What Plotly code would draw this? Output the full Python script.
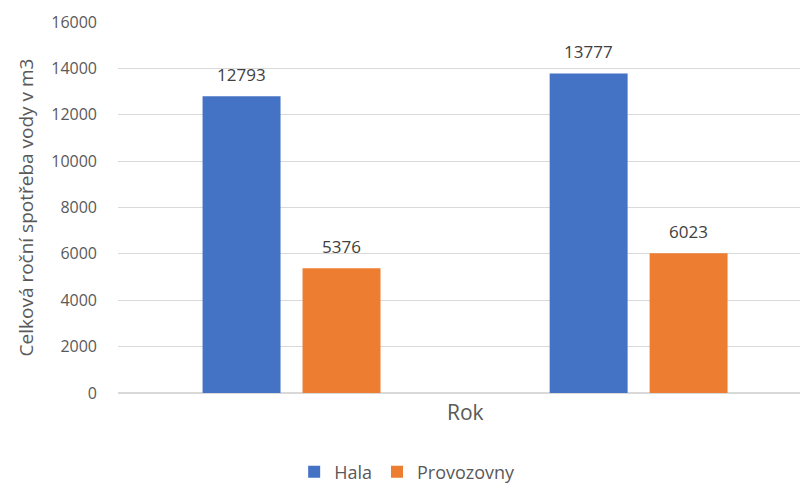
import plotly.graph_objects as go

# Two yearly groups, each with consumption for the hall and the workshops
groups = [0, 1]
hala = [12793, 13777]
provozovny = [5376, 6023]
series_names = ["Hala", "Provozovny"]
y_ticks = [0, 2000, 4000, 6000, 8000, 10000, 12000, 14000, 16000]

FONT = "Open Sans, Noto Sans, sans-serif"
GREY = "#595959"
BAR_OFFSET = 0.144  # half the distance between the two bar centres within a group

fig = go.Figure()
annotations = []
for k, (name, vals, color) in enumerate([(series_names[0], hala, "#4472C4"),
                                         (series_names[1], provozovny, "#ED7D31")]):
    fig.add_trace(go.Bar(
        x=groups, y=vals, name=name,
        marker=dict(color=color, line=dict(width=0)),
    ))
    shift = -BAR_OFFSET if k == 0 else BAR_OFFSET
    for g, v in zip(groups, vals):
        annotations.append(dict(
            x=g + shift, y=v, xref="x", yref="y", text=str(v), showarrow=False,
            yshift=22, xanchor="center", yanchor="middle",
            font=dict(family=FONT, size=17, color="#404040"),
        ))

annotations.append(dict(text="Rok", xref="paper", yref="paper",
                        x=(465 - 118) / 682, y=-19 / 371, xanchor="center", yanchor="middle",
                        showarrow=False, font=dict(family=FONT, size=21, color=GREY)))

fig.update_layout(
    width=800, height=483,
    margin=dict(l=118, r=0, t=22, b=90, autoexpand=False),
    paper_bgcolor="white", plot_bgcolor="white",
    barmode="group", bargap=0.424, bargroupgap=0.22,
    font=dict(family=FONT, color=GREY),
    showlegend=True,
    legend=dict(orientation="h", x=0.424, xanchor="center", y=-0.213, yanchor="middle",
                font=dict(family=FONT, size=18, color=GREY), itemwidth=30,
                traceorder="normal"),
    xaxis=dict(range=[-0.5, 1.465], showticklabels=False, showgrid=False,
               zeroline=False, showline=False, ticks=""),
    yaxis=dict(range=[0, 16000], tickvals=y_ticks, ticktext=[str(t) for t in y_ticks],
               showgrid=True, gridcolor="#d9d9d9", gridwidth=1,
               zeroline=True, zerolinecolor="#d9d9d9", zerolinewidth=2,
               tickfont=dict(family=FONT, size=16, color=GREY), ticks="",
               ticklabelstandoff=20,
               title=dict(text="Celková roční spotřeba vody v m3",
                          font=dict(family=FONT, size=19, color=GREY), standoff=12)),
    annotations=annotations,
)

fig.write_html("out.html")
